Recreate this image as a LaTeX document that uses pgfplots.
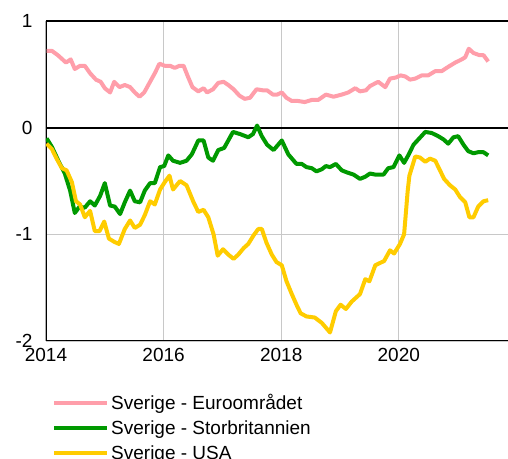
\documentclass[border=0pt]{standalone}
\usepackage{fontspec}
\setmainfont{Liberation Sans}
\usepackage{pgfplots}
\pgfplotsset{compat=1.18}
\usetikzlibrary{calc}

\definecolor{eurpink}{RGB}{255,158,170}
\definecolor{ukgreen}{RGB}{0,153,0}
\definecolor{usyellow}{RGB}{255,204,0}
\definecolor{gridgray}{RGB}{200,200,200}

\begin{document}
\begin{tikzpicture}
\begin{axis}[
    name=main,
    scale only axis,
    width=462pt, height=320pt,
    xmin=2014, xmax=2021.857,
    ymin=-2, ymax=1,
    xtick={2014,2016,2018,2020},
    xticklabels={2014,2016,2018,2020},
    ytick={-2,-1,0,1},
    yticklabels={-2,-1,0,1},
    scaled x ticks=false,
    major tick length=0pt,
    axis line style={draw=none},
    grid=major,
    major grid style={gridgray, line width=1.2pt},
    tick label style={font=\fontsize{19}{22}\selectfont},
    xticklabel style={yshift=-4pt},
    yticklabel style={xshift=-10pt},
    legend cell align=left,
    legend style={draw=none, fill=none, at={(0,0)}, anchor=north west,
        xshift=6pt, yshift=-51pt, font=\fontsize{19}{22}\selectfont,
        row sep=5.5pt, inner sep=0pt},
    legend image code/.code={\draw[#1, line width=4pt] (0pt,0pt) -- (53pt,0pt);},
    every axis plot/.append style={line width=4pt, line join=round},
]
\draw[black, line width=2pt] (rel axis cs:0,1) -- (rel axis cs:0,0) -- (rel axis cs:1,0);
\draw[black, line width=2pt] (rel axis cs:0,1) -- (rel axis cs:1,1);
\draw[black, line width=2pt] (axis cs:2014,0) -- (axis cs:2021.857,0);

\addplot[eurpink] coordinates {
(2014.01,0.72) (2014.10,0.72) (2014.20,0.68) (2014.34,0.61) (2014.42,0.64)
(2014.49,0.55) (2014.58,0.58) (2014.66,0.58) (2014.75,0.51) (2014.85,0.45)
(2014.93,0.43) (2015.00,0.37) (2015.09,0.33) (2015.16,0.43) (2015.25,0.38)
(2015.34,0.40) (2015.43,0.38) (2015.51,0.33) (2015.59,0.29) (2015.67,0.33)
(2015.77,0.43) (2015.85,0.51) (2015.93,0.60) (2016.02,0.58) (2016.11,0.58)
(2016.19,0.56) (2016.27,0.58) (2016.34,0.58) (2016.42,0.47) (2016.49,0.38)
(2016.59,0.34) (2016.68,0.37) (2016.74,0.33) (2016.84,0.36) (2016.93,0.42)
(2017.02,0.43) (2017.10,0.40) (2017.19,0.36) (2017.29,0.30) (2017.38,0.27)
(2017.47,0.28) (2017.58,0.36) (2017.69,0.35) (2017.76,0.35) (2017.86,0.31)
(2017.93,0.31) (2018.01,0.33) (2018.09,0.28) (2018.18,0.25) (2018.29,0.25)
(2018.40,0.24) (2018.52,0.26) (2018.63,0.26) (2018.76,0.31) (2018.89,0.29)
(2019.03,0.31) (2019.14,0.33) (2019.26,0.37) (2019.34,0.34) (2019.44,0.35)
(2019.51,0.39) (2019.65,0.43) (2019.77,0.38) (2019.85,0.46) (2019.95,0.47)
(2020.03,0.49) (2020.11,0.48) (2020.19,0.45) (2020.28,0.46) (2020.39,0.49)
(2020.50,0.49) (2020.62,0.53) (2020.73,0.53) (2020.84,0.57) (2020.96,0.61)
(2021.07,0.64) (2021.13,0.66) (2021.19,0.74) (2021.27,0.70) (2021.37,0.68)
(2021.44,0.68) (2021.52,0.62)
};
\addlegendentry{Sverige - Euroområdet}

\addplot[ukgreen] coordinates {
(2014.01,-0.10) (2014.10,-0.18) (2014.21,-0.31) (2014.32,-0.43) (2014.41,-0.59)
(2014.49,-0.80) (2014.57,-0.74) (2014.66,-0.75) (2014.75,-0.69) (2014.83,-0.73)
(2014.92,-0.64) (2015.00,-0.52) (2015.09,-0.73) (2015.17,-0.74) (2015.26,-0.81)
(2015.34,-0.70) (2015.43,-0.59) (2015.51,-0.69) (2015.60,-0.70) (2015.68,-0.59)
(2015.77,-0.52) (2015.85,-0.52) (2015.94,-0.37) (2016.01,-0.36) (2016.08,-0.26)
(2016.16,-0.31) (2016.28,-0.33) (2016.39,-0.31) (2016.48,-0.25) (2016.59,-0.12)
(2016.68,-0.12) (2016.76,-0.28) (2016.84,-0.31) (2016.93,-0.21) (2017.03,-0.19)
(2017.10,-0.12) (2017.18,-0.04) (2017.30,-0.06) (2017.44,-0.09) (2017.52,-0.06)
(2017.59,0.02) (2017.67,-0.08) (2017.76,-0.16) (2017.87,-0.21) (2018.01,-0.12)
(2018.12,-0.25) (2018.26,-0.34) (2018.35,-0.34) (2018.43,-0.37) (2018.52,-0.38)
(2018.60,-0.41) (2018.69,-0.39) (2018.76,-0.36) (2018.83,-0.37) (2018.93,-0.34)
(2019.03,-0.40) (2019.12,-0.42) (2019.23,-0.44) (2019.34,-0.48) (2019.43,-0.46)
(2019.51,-0.43) (2019.60,-0.44) (2019.74,-0.44) (2019.82,-0.38) (2019.91,-0.37)
(2020.01,-0.26) (2020.09,-0.33) (2020.16,-0.26) (2020.25,-0.16) (2020.35,-0.10)
(2020.45,-0.04) (2020.56,-0.05) (2020.67,-0.08) (2020.76,-0.11) (2020.84,-0.15)
(2020.93,-0.09) (2021.01,-0.08) (2021.10,-0.16) (2021.18,-0.22) (2021.27,-0.24)
(2021.35,-0.23) (2021.44,-0.23) (2021.52,-0.26)
};
\addlegendentry{Sverige - Storbritannien}

\addplot[usyellow] coordinates {
(2014.01,-0.15) (2014.10,-0.20) (2014.18,-0.29) (2014.27,-0.38) (2014.35,-0.40)
(2014.44,-0.51) (2014.51,-0.69) (2014.58,-0.72) (2014.66,-0.84) (2014.75,-0.78)
(2014.83,-0.97) (2014.91,-0.97) (2014.99,-0.88) (2015.07,-1.04) (2015.16,-1.07)
(2015.24,-1.09) (2015.34,-0.95) (2015.43,-0.87) (2015.51,-0.94) (2015.60,-0.91)
(2015.68,-0.82) (2015.77,-0.69) (2015.85,-0.72) (2015.94,-0.58) (2016.02,-0.51)
(2016.10,-0.45) (2016.16,-0.58) (2016.28,-0.50) (2016.39,-0.54) (2016.51,-0.70)
(2016.59,-0.79) (2016.68,-0.77) (2016.76,-0.84) (2016.85,-1.00) (2016.92,-1.20)
(2017.01,-1.14) (2017.10,-1.19) (2017.19,-1.23) (2017.27,-1.19) (2017.36,-1.13)
(2017.44,-1.09) (2017.53,-1.01) (2017.61,-0.95) (2017.67,-0.95) (2017.75,-1.08)
(2017.84,-1.19) (2017.92,-1.26) (2018.01,-1.29) (2018.09,-1.44) (2018.18,-1.56)
(2018.26,-1.66) (2018.33,-1.74) (2018.43,-1.77) (2018.57,-1.78) (2018.69,-1.83)
(2018.83,-1.92) (2018.93,-1.72) (2019.01,-1.66) (2019.10,-1.70) (2019.20,-1.63)
(2019.34,-1.56) (2019.43,-1.42) (2019.50,-1.44) (2019.60,-1.29) (2019.75,-1.25)
(2019.85,-1.15) (2019.92,-1.18) (2020.02,-1.09) (2020.09,-1.00) (2020.15,-0.60)
(2020.18,-0.45) (2020.28,-0.27) (2020.36,-0.28) (2020.45,-0.32) (2020.53,-0.29)
(2020.62,-0.31) (2020.70,-0.40) (2020.77,-0.48) (2020.87,-0.54) (2020.96,-0.58)
(2021.04,-0.65) (2021.13,-0.70) (2021.20,-0.84) (2021.27,-0.84) (2021.35,-0.74)
(2021.44,-0.69) (2021.52,-0.68)
};
\addlegendentry{Sverige - USA}
\end{axis}
\pgfresetboundingbox
\path[use as bounding box] ($(main.south west)+(-46pt,-118pt)$) rectangle ($(main.north east)+(0pt,21pt)$);
\end{tikzpicture}
\end{document}
